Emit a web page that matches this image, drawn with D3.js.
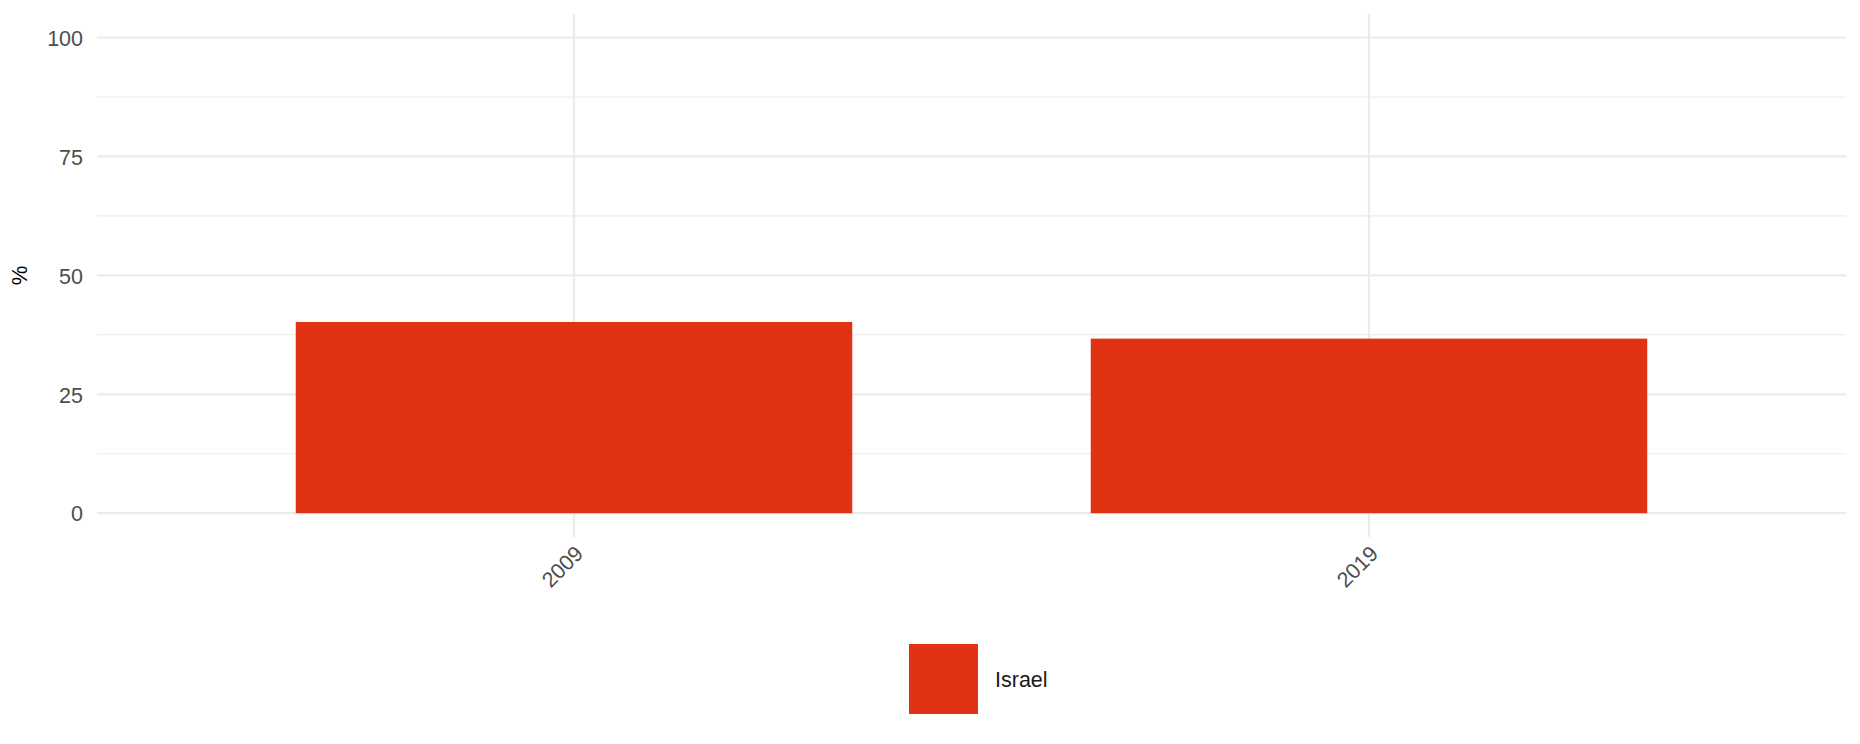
<!DOCTYPE html>
<html><head><meta charset="utf-8">
<script src="https://cdn.jsdelivr.net/npm/d3@7"></script>
<style>body{margin:0;background:#fff}</style>
</head><body>
<svg id="c" width="1860" height="744"></svg>
<script>
const categories = ["2009", "2019"];
const values = [40.2, 36.7];
const seriesName = "Israel";
const yTicks = [0, 25, 50, 75, 100];
const yMinor = [12.5, 37.5, 62.5, 87.5];

const W = 1860, H = 744;
const m = {left: 97, right: 14, top: 13.7, bottom: 207};
const svg = d3.select("#c");
const color = "#e13214";
const font = "Liberation Sans, Arial, sans-serif";

// ggplot-style discrete axis: centers at 0.6/2.2 and 1.6/2.2, bar width 0.7 units
const xr = [m.left, W - m.right];
const unit = (xr[1] - xr[0]) / 2.2;
const xc = d3.scalePoint().domain(categories).range([xr[0] + 0.6 * unit, xr[0] + 1.6 * unit]);
const barW = 0.7 * unit;

const y = d3.scaleLinear().domain([-5, 105]).range([H - m.bottom, m.top]);

const g = svg.append("g");
g.selectAll(".minor").data(yMinor).join("line")
  .attr("x1", xr[0]).attr("x2", xr[1]).attr("y1", d => y(d)).attr("y2", d => y(d))
  .attr("stroke", "#ebebeb").attr("stroke-width", 1.1);
g.selectAll(".major").data(yTicks).join("line")
  .attr("x1", xr[0]).attr("x2", xr[1]).attr("y1", d => y(d)).attr("y2", d => y(d))
  .attr("stroke", "#ebebeb").attr("stroke-width", 2.2);
g.selectAll(".vmajor").data(categories).join("line")
  .attr("x1", d => xc(d)).attr("x2", d => xc(d)).attr("y1", m.top).attr("y2", H - m.bottom)
  .attr("stroke", "#ebebeb").attr("stroke-width", 2.2);

g.selectAll(".bar").data(categories).join("rect")
  .attr("x", d => xc(d) - barW / 2).attr("width", barW)
  .attr("y", (d, i) => y(values[i])).attr("height", (d, i) => y(0) - y(values[i]))
  .attr("fill", color);

const yAxis = d3.axisLeft(y).tickValues(yTicks).tickSize(0).tickPadding(14);
const ya = svg.append("g").attr("transform", `translate(${m.left},0)`).call(yAxis);
ya.select(".domain").remove();
ya.selectAll("text").attr("font-family", font).attr("font-size", 21.5).attr("fill", "#4d4d4d").attr("dy", "0.36em");

const xAxis = d3.axisBottom(xc).tickSize(0).tickPadding(0);
const xa = svg.append("g").attr("transform", `translate(0,${H - m.bottom})`).call(xAxis);
xa.select(".domain").remove();
xa.selectAll("text").attr("font-family", font).attr("font-size", 21.5).attr("fill", "#4d4d4d")
  .attr("text-anchor", "end").attr("dy", null)
  .attr("transform", "translate(10,18) rotate(-45)");

svg.append("text").attr("transform", `translate(27,${(y(-5) + y(105)) / 2}) rotate(-90)`)
  .attr("text-anchor", "middle").attr("font-family", font).attr("font-size", 22).attr("fill", "#000")
  .text("%");

const lg = svg.append("g").attr("transform", "translate(909,644)");
lg.append("rect").attr("width", 69).attr("height", 70).attr("fill", color);
lg.append("text").attr("x", 86).attr("y", 35).attr("dy", "0.36em").attr("font-family", font)
  .attr("font-size", 21.5).attr("fill", "#1a1a1a").text(seriesName);
</script>
</body></html>
